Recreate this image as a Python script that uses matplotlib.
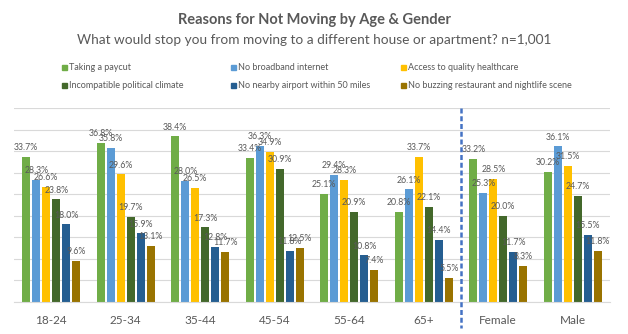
import numpy as np
import matplotlib
matplotlib.use("Agg")
import matplotlib.pyplot as plt
from matplotlib.patches import Rectangle

# Survey data (percent of respondents)
groups = ["18-24", "25-34", "35-44", "45-54", "55-64", "65+", "Female", "Male"]
reasons = [
    "Taking a paycut",
    "No broadband internet",
    "Access to quality healthcare",
    "Incompatible political climate",
    "No nearby airport within 50 miles",
    "No buzzing restaurant and nightlife scene",
]
paycut = [33.7, 36.8, 38.4, 33.4, 25.1, 20.8, 33.2, 30.2]
broadband = [28.3, 35.8, 28.0, 36.3, 29.4, 26.1, 25.3, 36.1]
healthcare = [26.6, 29.6, 26.5, 34.9, 28.3, 33.7, 28.5, 31.5]
political = [23.8, 19.7, 17.3, 30.9, 20.9, 22.1, 20.0, 24.7]
airport = [18.0, 15.9, 12.8, 11.8, 10.8, 14.4, 11.7, 15.5]
nightlife = [9.6, 13.1, 11.7, 12.5, 7.4, 5.5, 8.3, 11.8]

series = [paycut, broadband, healthcare, political, airport, nightlife]
colors = ["#70AD47", "#5B9BD5", "#FFC000", "#43682B", "#255E91", "#997300"]

GREY = "#595959"
W, H = 628, 334
plt.rcParams["font.family"] = ["Lato", "DejaVu Sans"]

fig = plt.figure(figsize=(W / 100, H / 100), dpi=100)
ax = fig.add_axes([14 / W, 32 / H, 596 / W, 194 / H])

x = np.arange(len(groups))
pitch = 0.134
width = 0.103
for i, (vals, col) in enumerate(zip(series, colors)):
    xs = x + (i - 2.5) * pitch
    ax.bar(xs, vals, width=width, color=col, zorder=2)
    for xi, v in zip(xs, vals):
        ax.annotate(f"{v:.1f}%", (xi, v), xytext=(0, 3.5), textcoords="offset points",
                    ha="center", va="bottom", fontsize=6.3, color=GREY, zorder=3)

ax.set_ylim(0, 45)
ax.set_xlim(-0.5, len(groups) - 0.5)
ax.set_yticks(np.arange(0, 46, 5))
ax.yaxis.grid(True, color="#D9D9D9", linewidth=0.8)
ax.set_axisbelow(True)
ax.tick_params(axis="y", left=False, labelleft=False)
ax.tick_params(axis="x", length=0, pad=9, labelsize=8.5, labelcolor=GREY)
ax.set_xticks(x)
ax.set_xticklabels(groups)
for s in ["left", "right", "top"]:
    ax.spines[s].set_visible(False)
ax.spines["bottom"].set_color("#D9D9D9")
ax.spines["bottom"].set_linewidth(0.8)

# dashed separator between age groups and gender
ax.plot([5.5, 5.5], [1.0, -0.134], transform=ax.get_xaxis_transform(),
        color="#4472C4", linewidth=1.8, dashes=[2.0, 1.1], clip_on=False, zorder=4)

fig.text(0.5, 1 - 20 / H, "Reasons for Not Moving by Age & Gender", ha="center", va="center",
         fontsize=10.5, fontweight="bold", color=GREY)
fig.text(0.5, 1 - 40 / H, "What would stop you from moving to a different house or apartment? n=1,001",
         ha="center", va="center", fontsize=9.8, color=GREY)

# legend laid out row by row like the original (3 columns x 2 rows)
col_x = [62, 231, 401]
row_y = [67, 86]
for k, (name, col) in enumerate(zip(reasons, colors)):
    px = col_x[k % 3]
    py = row_y[k // 3]
    fig.patches.append(Rectangle((px / W, (H - py - 2.5) / H), 5 / W, 5 / H,
                                 transform=fig.transFigure, color=col, figure=fig))
    fig.text((px + 7) / W, 1 - py / H, name, ha="left", va="center", fontsize=6.5, color=GREY)

fig.savefig("out.png", dpi=100)
